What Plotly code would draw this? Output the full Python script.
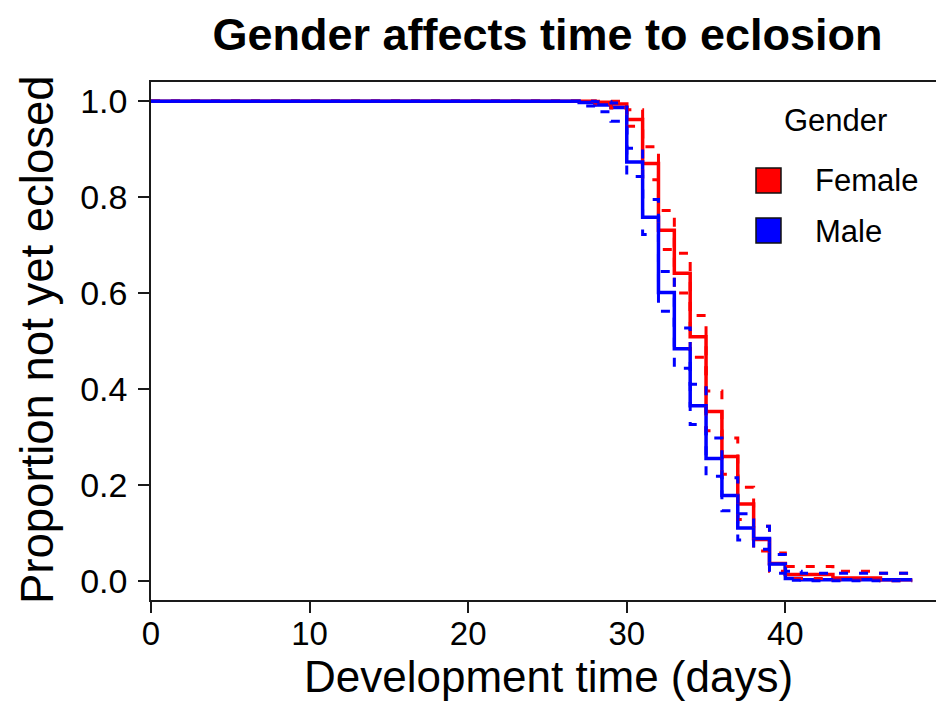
import plotly.graph_objects as go

# Kaplan-Meier estimates of the proportion not yet eclosed, by gender
# (step values after each event day, with upper/lower confidence limits)
days_female = [0, 28, 29, 30, 31, 32, 33, 34, 35, 36, 37, 38, 39, 40, 43, 46, 48]
surv_female = [1.000, 0.998, 0.994, 0.962, 0.870, 0.731, 0.641, 0.509, 0.353, 0.259,
               0.160, 0.086, 0.036, 0.013, 0.006, 0.002, 0.002]
upper_female = [1.000, 1.000, 1.000, 0.982, 0.905, 0.772, 0.683, 0.553, 0.396, 0.298,
                0.195, 0.114, 0.058, 0.030, 0.020, 0.016, 0.016]
lower_female = [1.000, 0.994, 0.986, 0.948, 0.836, 0.691, 0.600, 0.466, 0.313, 0.222,
                0.128, 0.062, 0.020, 0.005, 0.002, 0.0003, 0.0003]

days_male = [0, 27, 28, 29, 30, 31, 32, 33, 34, 35, 36, 37, 38, 39, 40, 41, 48]
surv_male = [1.000, 0.997, 0.992, 0.987, 0.873, 0.758, 0.601, 0.484, 0.365, 0.255,
             0.178, 0.110, 0.088, 0.035, 0.005, 0.002, 0.002]
upper_male = [1.000, 1.000, 0.999, 0.996, 0.902, 0.795, 0.645, 0.527, 0.410, 0.298,
              0.215, 0.140, 0.114, 0.055, 0.020, 0.016, 0.016]
lower_male = [1.000, 0.990, 0.978, 0.958, 0.843, 0.722, 0.562, 0.443, 0.326, 0.218,
              0.146, 0.085, 0.066, 0.016, 0.001, 0.0003, 0.0003]

groups = ["Female", "Male"]
colors = {"Female": "#FF0000", "Male": "#0000FF"}

x_ticks = [0, 10, 20, 30, 40]
y_ticks = [0.0, 0.2, 0.4, 0.6, 0.8, 1.0]
y_ticktext = ["0.0", "0.2", "0.4", "0.6", "0.8", "1.0"]

FONT = "Liberation Sans, Arial, sans-serif"
W, H = 936, 702
L, R, T, B = 151, 0, 82, 102
PW, PH = W - L - R, H - T - B
AXIS_COLOR = "#1a1a1a"
TEXT_COLOR = "#000000"


def px_x(px):
    return (px - L) / PW


def px_y(py):
    return (H - B - py) / PH


series = {
    "Female": (days_female, surv_female, upper_female, lower_female),
    "Male": (days_male, surv_male, upper_male, lower_male),
}

fig = go.Figure()

# solid survival curves
for g in groups:
    d, s, u, lo = series[g]
    fig.add_trace(go.Scatter(x=d, y=s, mode="lines", line_shape="hv",
                             line=dict(color=colors[g], width=3.5),
                             showlegend=False, hoverinfo="skip"))

# dashed confidence limits
for g in groups:
    d, s, u, lo = series[g]
    for band in (u, lo):
        fig.add_trace(go.Scatter(x=d, y=band, mode="lines", line_shape="hv",
                                 line=dict(color=colors[g], width=3, dash="9px,11px"),
                                 showlegend=False, hoverinfo="skip"))

axis_common = dict(showline=True, linecolor=AXIS_COLOR, linewidth=1.5,
                   ticks="outside", ticklen=11, tickwidth=1.5, tickcolor=AXIS_COLOR,
                   showgrid=False, zeroline=False)

fig.update_xaxes(range=[0, 49.5], tickvals=x_ticks, mirror=True,
                 ticklabelstandoff=-7,
                 tickfont=dict(family=FONT, size=33, color=TEXT_COLOR), **axis_common)
fig.update_yaxes(range=[-0.04, 1.04], tickvals=y_ticks, ticktext=y_ticktext,
                 ticklabelstandoff=4,
                 tickfont=dict(family=FONT, size=34, color=TEXT_COLOR), **axis_common)

# legend drawn by hand: title, colour swatches and labels
shapes = []
annotations = []
legend_rows = [("Female", 168), ("Male", 218)]
for g, top in legend_rows:
    shapes.append(dict(type="rect", xref="paper", yref="paper",
                       x0=px_x(756), x1=px_x(781), y0=px_y(top + 25), y1=px_y(top),
                       fillcolor=colors[g], line=dict(color="#111111", width=1.5)))
    annotations.append(dict(text=g, xref="paper", yref="paper",
                            x=px_x(813), y=px_y(top + 13), xanchor="left",
                            yanchor="middle", showarrow=False,
                            font=dict(family=FONT, size=31, color=TEXT_COLOR)))
annotations.append(dict(text="Gender", xref="paper", yref="paper",
                        x=px_x(835), y=px_y(121), xanchor="center", yanchor="middle",
                        showarrow=False, font=dict(family=FONT, size=31, color=TEXT_COLOR)))

# axis titles
annotations.append(dict(text="Development time (days)", xref="paper", yref="paper",
                        x=px_x(548), y=px_y(702), xanchor="center", yanchor="bottom",
                        borderpad=0, showarrow=False,
                        font=dict(family=FONT, size=44, color=TEXT_COLOR)))
annotations.append(dict(text="Proportion not yet eclosed", xref="paper", yref="paper",
                        x=px_x(37), y=px_y(340), xanchor="center", yanchor="middle",
                        textangle=-90, showarrow=False,
                        font=dict(family=FONT, size=45.5, color=TEXT_COLOR)))

fig.update_layout(
    width=W, height=H,
    margin=dict(l=L, r=R, t=T, b=B),
    paper_bgcolor="white", plot_bgcolor="white",
    title=dict(text="<b>Gender affects time to eclosion</b>",
               x=547.5 / W, xanchor="center", y=1 - 34 / H, yanchor="middle",
               font=dict(family=FONT, size=45, color=TEXT_COLOR)),
    shapes=shapes, annotations=annotations,
    showlegend=False,
)

fig.write_html("out.html")
